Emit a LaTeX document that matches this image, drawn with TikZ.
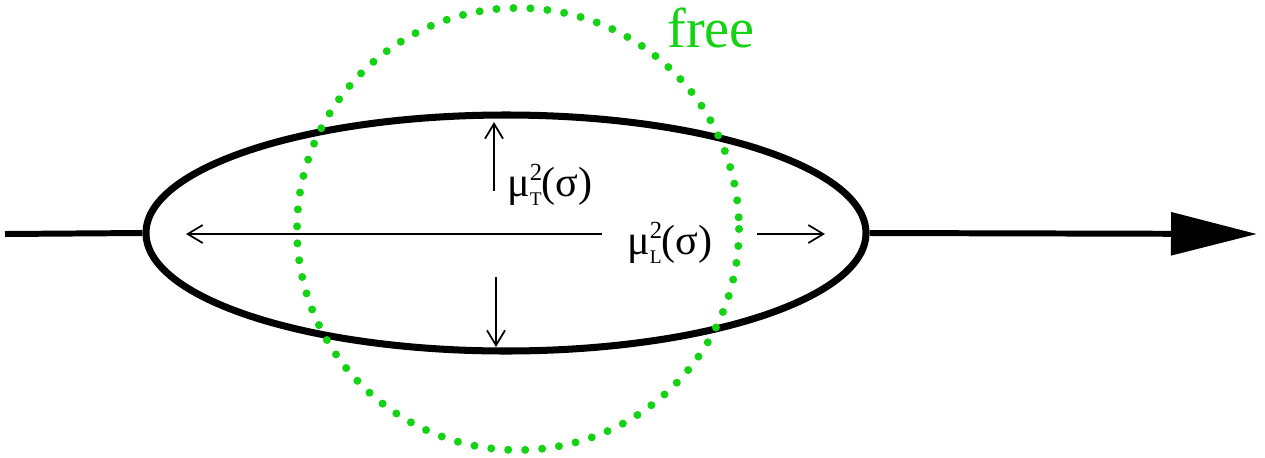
\documentclass[tikz,border=0pt]{standalone}
\usepackage{amsmath}
\usepackage{fontspec}
\setmainfont{Liberation Serif}
\newfontfamily\labelfont{Liberation Serif}
\usetikzlibrary{arrows.meta,shapes.geometric}
\definecolor{freegreen}{RGB}{20,210,20}

\begin{document}
\begin{tikzpicture}[x=0.02cm,y=-0.02cm,
  thin arrow/.style={line width=1pt,-{Straight Barb[length=3mm,width=3.6mm]}},
  lbl/.style={inner sep=0pt,font=\labelfont\fontsize{24}{28}\selectfont}]
\useasboundingbox (0,0) rectangle (1265,457);
% beam line
\coordinate (in) at (5,234);
\coordinate (out) at (1257,234);
\node[draw,line width=4pt,ellipse,minimum width=720*0.02cm,minimum height=236*0.02cm,inner sep=0pt] (bunch) at (506,233) {};
\draw[line width=3.4pt] (in) -- (bunch.west);
\draw[line width=3.4pt,-{Triangle[length=86*0.02cm,width=42*0.02cm]}] (bunch.east) -- (out);
% free
\draw[freegreen,line width=8*0.02cm,line cap=round,dash pattern=on 0pt off 17*0.02cm] (518,229) circle[radius=221];
\node[freegreen,inner sep=0pt,font=\labelfont\fontsize{32}{36}\selectfont] (free) at (711,28) {free};
% widths
\node[lbl] (muT) at (550,185) {μ\raisebox{9pt}{\rlap{\fontsize{14}{14}\selectfont 2}}\raisebox{-5pt}{\fontsize{11}{11}\selectfont T}(σ)};
\node[lbl] (muL) at (670,243) {μ\raisebox{9pt}{\rlap{\fontsize{14}{14}\selectfont 2}}\raisebox{-5pt}{\fontsize{11}{11}\selectfont L}(σ)};
\coordinate (up0) at (494,191);
\coordinate (up1) at (494,122);
\coordinate (dn0) at (496,277);
\coordinate (dn1) at (496,347);
\coordinate (lf0) at (602,234);
\coordinate (lf1) at (186,234);
\coordinate (rt0) at (757,234);
\coordinate (rt1) at (825,234);
\draw[thin arrow] (up0) -- (up1);
\draw[thin arrow] (dn0) -- (dn1);
\draw[thin arrow] (lf0) -- (lf1);
\draw[thin arrow] (rt0) -- (rt1);
\end{tikzpicture}
\end{document}
